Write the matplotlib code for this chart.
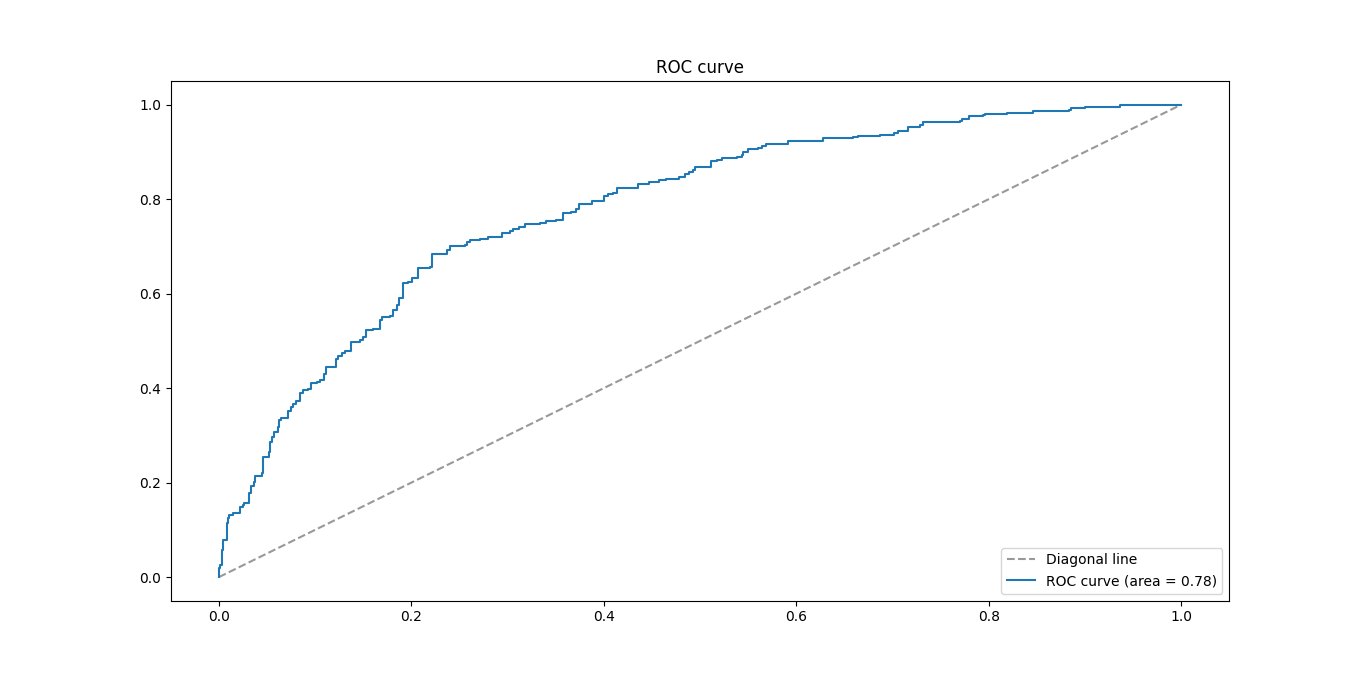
import matplotlib
matplotlib.use("Agg")
import matplotlib.pyplot as plt

# ROC curve vertices (false positive rate, true positive rate)
fpr = [0.000, 0.000, 0.001, 0.003, 0.004, 0.008, 0.009, 0.011, 0.015, 0.022,
       0.025, 0.026, 0.031, 0.033, 0.036, 0.038, 0.045, 0.046, 0.052, 0.053,
       0.055, 0.057, 0.061, 0.062, 0.065, 0.072, 0.075, 0.077, 0.080, 0.084,
       0.087, 0.093, 0.096, 0.102, 0.105, 0.109, 0.111, 0.122, 0.124, 0.128,
       0.131, 0.137, 0.147, 0.150, 0.153, 0.160, 0.167, 0.170, 0.178, 0.181,
       0.185, 0.187, 0.191, 0.196, 0.201, 0.207, 0.219, 0.221, 0.237, 0.240,
       0.256, 0.258, 0.261, 0.271, 0.280, 0.294, 0.302, 0.306, 0.312, 0.318,
       0.334, 0.340, 0.350, 0.358, 0.366, 0.371, 0.374, 0.388, 0.400, 0.404,
       0.410, 0.414, 0.436, 0.447, 0.457, 0.465, 0.478, 0.484, 0.488, 0.493,
       0.495, 0.507, 0.511, 0.518, 0.523, 0.538, 0.544, 0.545, 0.550, 0.560,
       0.564, 0.568, 0.591, 0.628, 0.659, 0.664, 0.687, 0.701, 0.706, 0.716,
       0.728, 0.732, 0.770, 0.772, 0.779, 0.794, 0.796, 0.819, 0.846, 0.883,
       0.885, 0.900, 0.936, 1.000]
tpr = [0.000, 0.019, 0.025, 0.057, 0.078, 0.114, 0.125, 0.131, 0.136, 0.148,
       0.153, 0.157, 0.178, 0.193, 0.201, 0.214, 0.220, 0.254, 0.265, 0.286,
       0.297, 0.307, 0.318, 0.333, 0.337, 0.352, 0.360, 0.367, 0.373, 0.390,
       0.396, 0.398, 0.411, 0.413, 0.417, 0.430, 0.445, 0.462, 0.468, 0.475,
       0.479, 0.498, 0.502, 0.508, 0.523, 0.525, 0.544, 0.551, 0.553, 0.566,
       0.576, 0.591, 0.623, 0.625, 0.633, 0.655, 0.657, 0.684, 0.693, 0.701,
       0.703, 0.710, 0.714, 0.716, 0.720, 0.729, 0.733, 0.737, 0.742, 0.748,
       0.750, 0.754, 0.756, 0.771, 0.773, 0.780, 0.790, 0.797, 0.807, 0.811,
       0.814, 0.824, 0.831, 0.837, 0.841, 0.843, 0.847, 0.854, 0.858, 0.862,
       0.867, 0.869, 0.881, 0.883, 0.888, 0.890, 0.894, 0.900, 0.907, 0.909,
       0.913, 0.917, 0.922, 0.930, 0.932, 0.934, 0.936, 0.941, 0.945, 0.953,
       0.956, 0.964, 0.966, 0.970, 0.975, 0.977, 0.981, 0.983, 0.987, 0.989,
       0.992, 0.994, 1.000, 1.000]
roc_auc = 0.78

diag = [0, 1]

fig, ax = plt.subplots(figsize=(13.66, 6.75), dpi=100)
ax.plot(diag, diag, linestyle="--", color="#999999", label="Diagonal line")
ax.plot(fpr, tpr, drawstyle="steps-post", color="#1f77b4",
        label=f"ROC curve (area = {roc_auc:.2f})")
ax.set_title("ROC curve")
ax.legend(loc="lower right")

plt.savefig("out.png", dpi=100)
